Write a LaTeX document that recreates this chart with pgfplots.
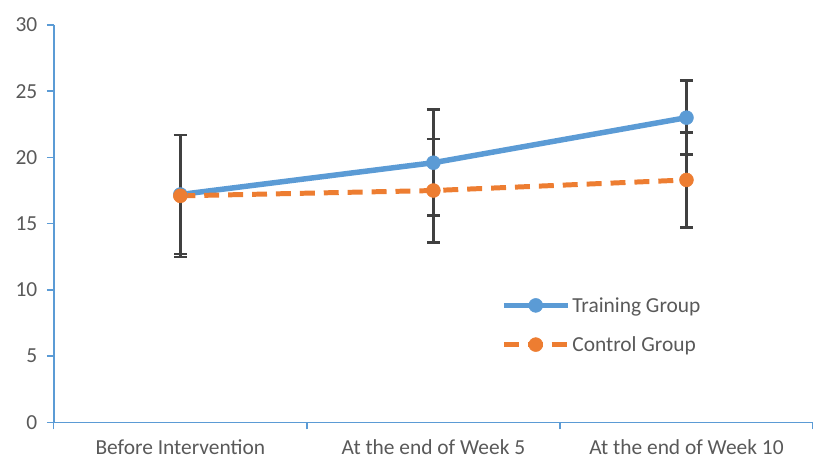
\documentclass[border=0pt]{standalone}
\usepackage{fontspec}
\setmainfont{Carlito}
\usepackage{pgfplots}
\pgfplotsset{compat=1.18}
\definecolor{axblue}{HTML}{5B9BD5}
\definecolor{serblue}{HTML}{5B9BD5}
\definecolor{serorange}{HTML}{ED7D31}
\definecolor{txtgray}{HTML}{595959}
\definecolor{errgray}{HTML}{404040}
\begin{document}
\begin{tikzpicture}
\begin{axis}[
  scale only axis,
  width=762pt, height=399pt,
  xmin=0.5, xmax=3.5,
  ymin=0, ymax=30,
  axis x line=bottom, axis y line=left,
  axis line style={-, axblue, line width=1.6pt},
  font=\fontsize{21.5}{24}\selectfont,
  every tick label/.append style={txtgray},
  /pgf/number format/assume math mode=true,
  ytick={0,5,...,30},
  xtick={1,2,3},
  xticklabels={Before Intervention, At the end of Week 5, At the end of Week 10},
  major x tick style={draw=none},
  minor xtick={0.5,1.5,2.5,3.5},
  minor tick length=7pt,
  major tick length=7pt,
  tick align=outside,
  minor x tick style={axblue, line width=1.4pt},
  major y tick style={axblue, line width=1.4pt},
  xticklabel style={yshift=-7pt},
  yticklabel style={xshift=-6pt},
  legend style={draw=none, fill=none, at={(0.585,0.245)}, anchor=west,
    font=\fontsize{21.5}{24}\selectfont\color{txtgray}, row sep=19pt},
  legend cell align=left,
  legend image code/.code={
    \draw[#1] (0pt,0pt) -- (64pt,0pt);
    \draw[#1, solid] plot coordinates {(32pt,0pt)};
  },
  error bars/error bar style={errgray, line width=2.6pt, solid},
  error bars/error mark options={errgray, line width=2.6pt, mark size=6.5pt, rotate=90},
]
\addplot[serblue, line width=5.5pt, mark=*, mark size=7pt,
  mark options={solid, fill=serblue, draw=serblue, line width=0.5pt},
  error bars/.cd, y dir=both, y explicit]
coordinates {
  (1,17.2) +- (0,4.5)
  (2,19.6) +- (0,4.0)
  (3,23.0) +- (0,2.8)
};
\addlegendentry{Training Group}
\addplot[serorange, line width=5pt, dash pattern=on 15pt off 9pt, mark=*, mark size=7pt,
  mark options={solid, fill=serorange, draw=serorange, line width=0.5pt},
  error bars/.cd, y dir=both, y explicit]
coordinates {
  (1,17.1) +- (0,4.6)
  (2,17.5) +- (0,3.9)
  (3,18.3) +- (0,3.6)
};
\addlegendentry{Control Group}
\end{axis}
\pgfresetboundingbox
\path[use as bounding box] ([shift={(-54pt,-40pt)}]current axis.south west)
  rectangle ([shift={(0pt,25pt)}]current axis.north east);
\end{tikzpicture}
\end{document}
